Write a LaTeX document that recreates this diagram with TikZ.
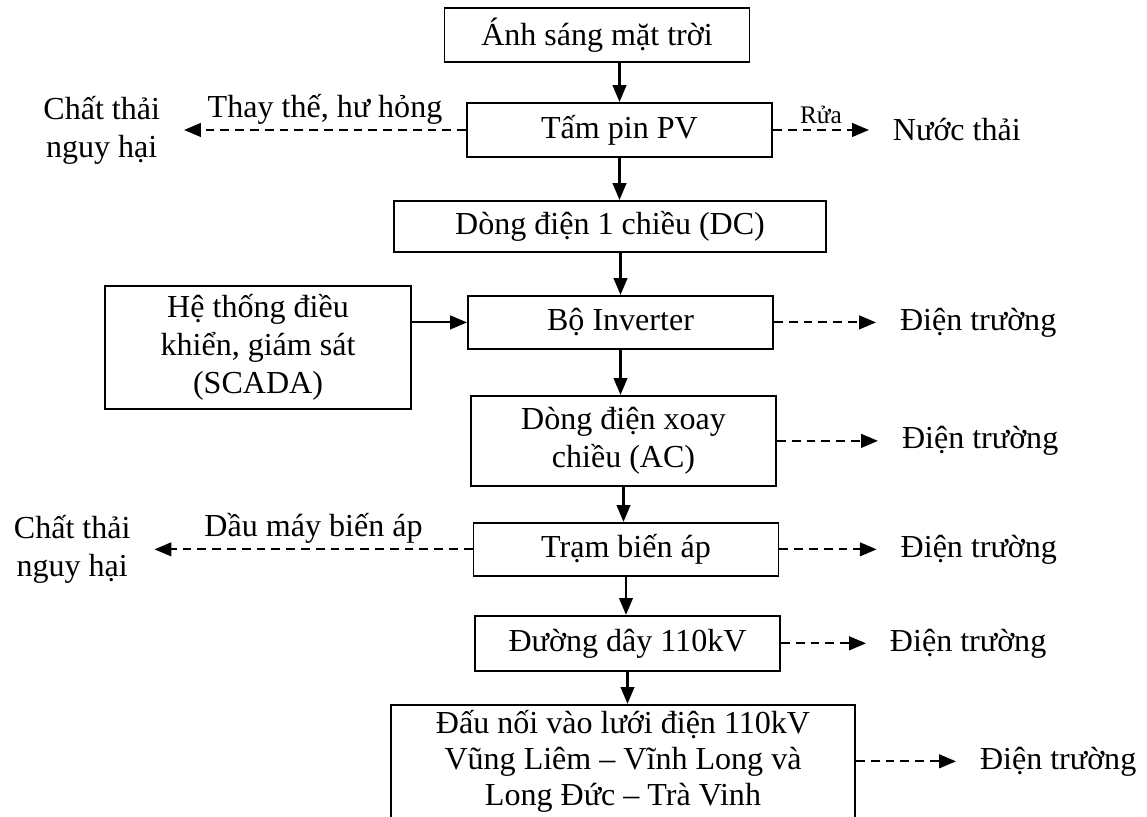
\documentclass[tikz,border=0pt]{standalone}
\usepackage{fontspec}
\setmainfont{Liberation Serif}
\usetikzlibrary{arrows.meta,positioning}

\begin{document}
\begin{tikzpicture}[
    node distance=1cm,
    font=\fontsize{22.8}{27}\selectfont,
    box/.style={rectangle, draw, line width=1.4pt, minimum width=7.625cm, minimum height=1.35cm, inner ysep=2pt, align=center},
    note/.style={inner sep=0pt, outer xsep=0.6cm, align=center},
    arrow/.style={-{Triangle[length=0.42cm, width=0.34cm]}, line width=1.5pt},
    dasharrow/.style={arrow, dash pattern=on 0.22cm off 0.15cm}
]
\useasboundingbox (0,0) rectangle (28.675,-20.4);

\node[box] (sun) at (14.925,-0.875) {Ánh sáng mặt trời};
\node[box, below=0.975cm of sun, xshift=0.5625cm] (pv) {Tấm pin PV};
\node[box, below=1.05cm of pv, xshift=-0.2375cm, minimum width=10.8cm, minimum height=1.275cm] (dc) {Dòng điện 1 chiều (DC)};
\node[box, below=1.05cm of dc, xshift=0.2625cm, minimum height=1.325cm] (inv) {Bộ Inverter};
\node[box, below=1.125cm of inv, xshift=0.075cm, minimum height=2.25cm] (ac) {Dòng điện xoay\\chiều (AC)};
\node[box, below=0.875cm of ac, xshift=0.0625cm, minimum height=1.325cm] (tba) {Trạm biến áp};
\node[box, below=0.95cm of tba, xshift=0.0375cm, minimum height=1.375cm] (line) {Đường dây 110kV};
\node[box, below=0.8cm of line, xshift=-0.1125cm, minimum width=11.6cm, inner ysep=4pt, font=\fontsize{22.8}{25.5}\selectfont] (grid) {Đấu nối vào lưới điện 110kV\\Vũng Liêm -- Vĩnh Long và\\Long Đức -- Trà Vinh};

\node[box, left=1.375cm of inv.north west, anchor=north east, yshift=0.25cm, minimum width=7.65cm, minimum height=3.075cm] (scada) {Hệ thống điều\\khiển, giám sát\\(SCADA)};

% main flow
\draw[arrow] (sun.south -| pv.north) -- (pv.north);
\draw[arrow] (pv.south) -- (pv.south |- dc.north);
\draw[arrow] (dc.south -| inv.north) -- (inv.north);
\draw[arrow] (inv.south) -- (inv.south |- ac.north);
\draw[arrow] (ac.south) -- (ac.south |- tba.north);
\draw[arrow] (tba.south) -- (tba.south |- line.north);
\draw[arrow] (line.south) -- (line.south |- grid.north);
\draw[arrow] (scada.east |- inv.west) -- (inv.west);

% side outputs
\node[note, left=7.05cm of pv] (haz1) {Chất thải\\nguy hại};
\node[note, right=2.4cm of pv] (water) {Nước thải};
\node[note, right=2.55cm of inv] (ef1) {Điện trường};
\node[note, right=2.525cm of ac] (ef2) {Điện trường};
\node[note, left=7.95cm of tba] (haz2) {Chất thải\\nguy hại};
\node[note, right=2.43cm of tba] (ef3) {Điện trường};
\node[note, right=2.125cm of line] (ef4) {Điện trường};
\node[note, right=2.5cm of grid] (ef5) {Điện trường};

\draw[dasharrow] (pv) -- node[above] {Thay thế, hư hỏng} (haz1);
\draw[dasharrow] (pv) -- node[above, font=\fontsize{18}{21}\selectfont] {Rửa} (water);
\draw[dasharrow] (inv) -- (ef1);
\draw[dasharrow] (ac) -- (ef2);
\draw[dasharrow] (tba) -- node[above] {Dầu máy biến áp} (haz2);
\draw[dasharrow] (tba) -- (ef3);
\draw[dasharrow] (line) -- (ef4);
\draw[dasharrow] (grid) -- (ef5);
\end{tikzpicture}
\end{document}
